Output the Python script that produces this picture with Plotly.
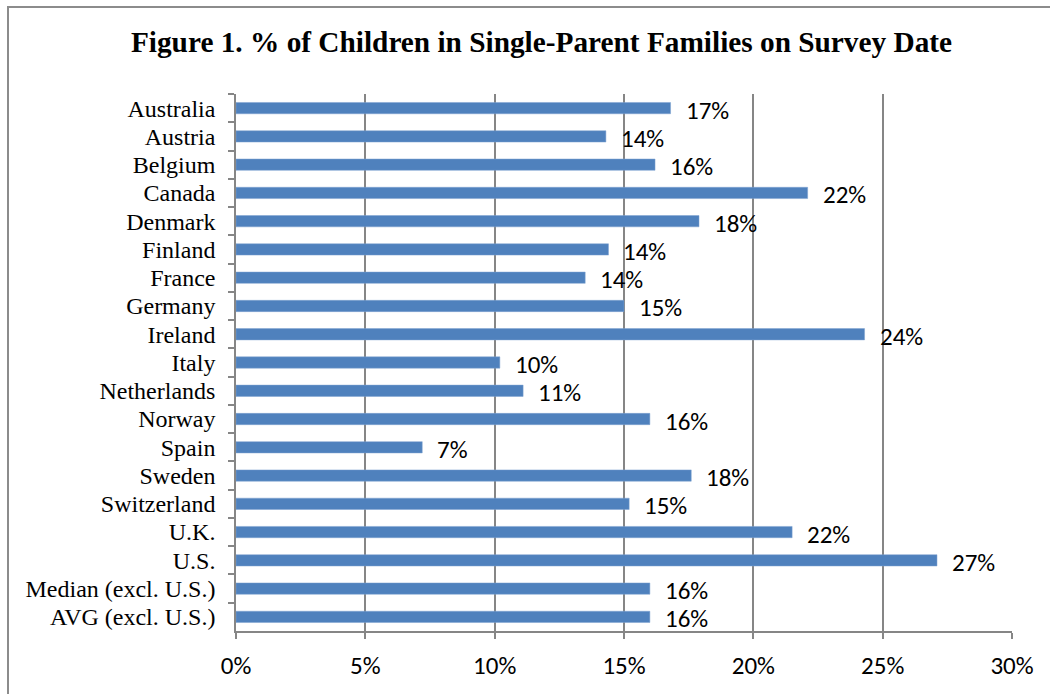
import plotly.graph_objects as go

countries = ["Australia", "Austria", "Belgium", "Canada", "Denmark", "Finland", "France",
             "Germany", "Ireland", "Italy", "Netherlands", "Norway", "Spain", "Sweden",
             "Switzerland", "U.K.", "U.S.", "Median (excl. U.S.)", "AVG (excl. U.S.)"]
values = [16.8, 14.3, 16.2, 22.1, 17.9, 14.4, 13.5, 15.0, 24.3, 10.2, 11.1, 16.0, 7.2,
          17.6, 15.2, 21.5, 27.1, 16.0, 16.0]
labels = ["17%", "14%", "16%", "22%", "18%", "14%", "14%", "15%", "24%", "10%", "11%",
          "16%", "7%", "18%", "15%", "22%", "27%", "16%", "16%"]
x_ticks = [0, 5, 10, 15, 20, 25, 30]
x_tick_text = ["0%", "5%", "10%", "15%", "20%", "25%", "30%"]

W, H = 1050, 694
L, R, T, B = 236, 1012, 94, 631

fig = go.Figure(go.Bar(
    x=values, y=countries, orientation="h",
    marker=dict(color="#4F81BD", line=dict(color="#7FA3D0", width=0.5)),
    width=0.4, hoverinfo="skip",
))

for c, v, t in zip(countries, values, labels):
    fig.add_annotation(x=v, y=c, text=t, showarrow=False, xanchor="left", yanchor="middle",
                       xshift=13, yshift=-2,
                       font=dict(family="Carlito, Calibri, Lato, sans-serif", size=25, color="#000"))

def px_x(p):
    return (p - L) / (R - L)

def px_y(p):
    return (B - p) / (B - T)

fig.add_shape(type="rect", xref="paper", yref="paper",
              x0=px_x(8), x1=px_x(1060), y0=px_y(710), y1=px_y(7),
              line=dict(color="#8C8C8C", width=2), fillcolor="rgba(0,0,0,0)", layer="below")

fig.update_layout(
    width=W, height=H,
    margin=dict(l=L, r=W - R, t=T, b=H - B, pad=0, autoexpand=False),
    paper_bgcolor="white", plot_bgcolor="white",
    showlegend=False,
    title=dict(text="<b>Figure 1. % of Children in Single-Parent Families on Survey Date</b>",
               x=(130 + 953) / 2 / W, xanchor="center", y=1 - 42 / H, yanchor="middle",
               font=dict(family="Liberation Serif, Times New Roman, serif", size=29.3, color="#000")),
    bargap=0.6,
)
fig.update_xaxes(range=[0, 30], tickvals=x_ticks, ticktext=x_tick_text, automargin=False,
                 showgrid=True, gridcolor="#868686", gridwidth=1.5,
                 showline=True, linecolor="#868686", linewidth=1.5,
                 ticks="outside", ticklen=6, tickcolor="#868686", tickwidth=1.5,
                 ticklabelstandoff=5, zeroline=False,
                 tickfont=dict(family="Carlito, Calibri, Lato, sans-serif", size=25, color="#000"))
fig.update_yaxes(range=[len(countries) - 0.5, -0.5], categoryorder="array", categoryarray=countries,
                 tickmode="linear", dtick=1, tick0=0, automargin=False,
                 showline=True, linecolor="#868686", linewidth=1.5,
                 ticks="outside", ticklen=6, tickcolor="#868686", tickwidth=1.5,
                 tickson="boundaries", showgrid=False, ticklabelstandoff=14,
                 tickfont=dict(family="Liberation Serif, Times New Roman, serif", size=24, color="#000"))

fig.write_html("out.html")
